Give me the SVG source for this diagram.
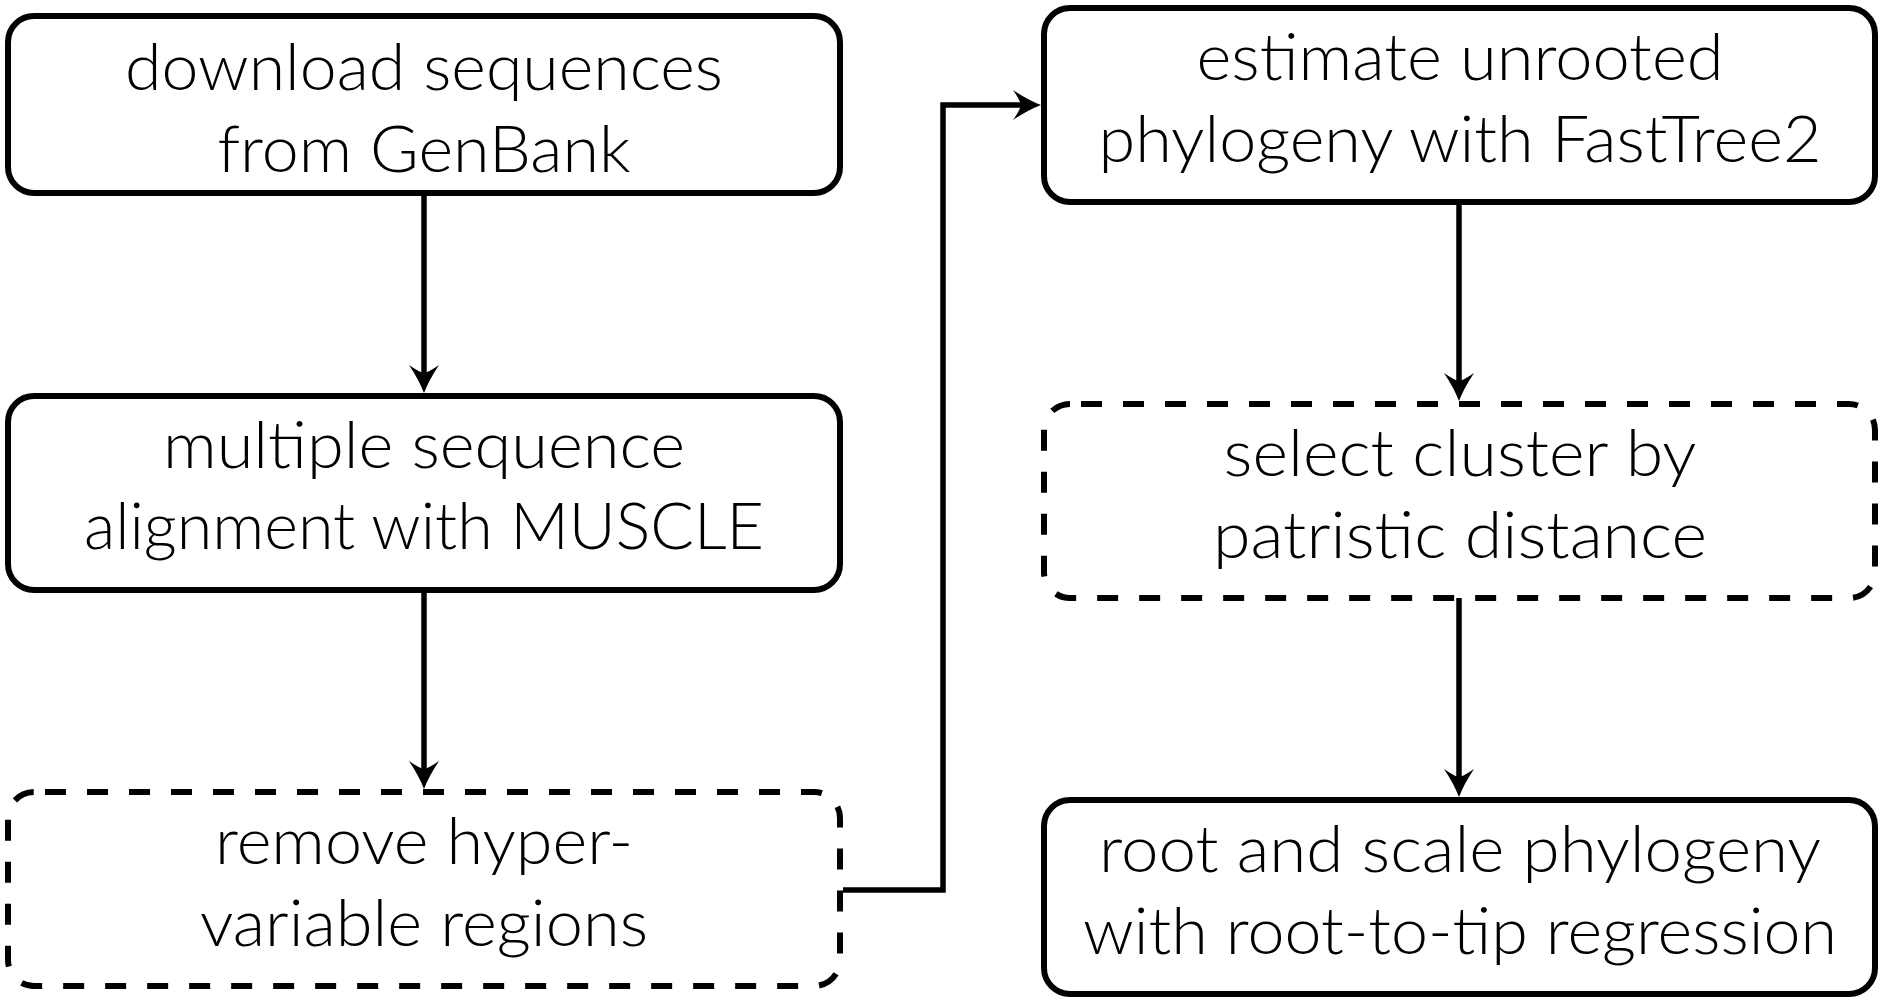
<svg xmlns="http://www.w3.org/2000/svg" width="1882" height="1000" viewBox="0 0 1882 1000">
<style>
.box{fill:#ffffff;stroke:#000000;stroke-width:6}
.dash{stroke-dasharray:21 21;stroke-dashoffset:31}
.lbl{font-family:Lato,"Liberation Sans",sans-serif;font-weight:300;font-size:65px;fill:#000000;text-anchor:middle}
.edge{fill:none;stroke:#000000;stroke-width:5.5}
</style>
<defs>
<marker id="arr" markerUnits="userSpaceOnUse" markerWidth="32" markerHeight="36" viewBox="-30 -18 32 36" refX="-20" refY="0" orient="auto">
<path d="M0,0 Q-13,-5 -28,-15 Q-21,-5 -20,0 Q-21,5 -28,15 Q-13,5 0,0 Z" fill="#000000"/>
</marker>
</defs>
<rect width="1882" height="1000" fill="#ffffff"/>
<g id="connectors">
<line class="edge" x1="424" y1="193" x2="424" y2="373" marker-end="url(#arr)"/>
<line class="edge" x1="424" y1="590" x2="424" y2="769" marker-end="url(#arr)"/>
<path class="edge" d="M843,890 H943 V105 H1021" marker-end="url(#arr)"/>
<line class="edge" x1="1459" y1="202" x2="1459" y2="381" marker-end="url(#arr)"/>
<line class="edge" x1="1459" y1="598" x2="1459" y2="777" marker-end="url(#arr)"/>
</g>
<g id="n1">
<rect class="box" x="8" y="16" width="832" height="177" rx="26"/>
<text class="lbl" x="424" y="90" textLength="598" lengthAdjust="spacingAndGlyphs">download sequences</text>
<text class="lbl" x="424" y="172" textLength="413" lengthAdjust="spacingAndGlyphs">from GenBank</text>
</g>
<g id="n2">
<rect class="box" x="8" y="396" width="832" height="194" rx="26"/>
<text class="lbl" x="424" y="468" textLength="522" lengthAdjust="spacingAndGlyphs">multiple sequence</text>
<text class="lbl" x="424" y="549" textLength="680" lengthAdjust="spacingAndGlyphs">alignment with MUSCLE</text>
</g>
<g id="n3">
<rect class="box dash" x="8" y="792" width="832" height="194" rx="26"/>
<text class="lbl" x="424" y="864" textLength="418" lengthAdjust="spacingAndGlyphs">remove hyper-</text>
<text class="lbl" x="424" y="946" textLength="448" lengthAdjust="spacingAndGlyphs">variable regions</text>
</g>
<g id="n4">
<rect class="box" x="1044" y="8" width="831" height="194" rx="26"/>
<text class="lbl" x="1460" y="80" textLength="527" lengthAdjust="spacingAndGlyphs">estimate unrooted</text>
<text class="lbl" x="1460" y="162" textLength="723" lengthAdjust="spacingAndGlyphs">phylogeny with FastTree2</text>
</g>
<g id="n5">
<rect class="box dash" x="1044" y="404" width="831" height="194" rx="26"/>
<text class="lbl" x="1460" y="476" textLength="473" lengthAdjust="spacingAndGlyphs">select cluster by</text>
<text class="lbl" x="1460" y="558" textLength="494" lengthAdjust="spacingAndGlyphs">patristic distance</text>
</g>
<g id="n6">
<rect class="box" x="1044" y="800" width="831" height="194" rx="26"/>
<text class="lbl" x="1460" y="872" textLength="722" lengthAdjust="spacingAndGlyphs">root and scale phylogeny</text>
<text class="lbl" x="1460" y="954" textLength="754" lengthAdjust="spacingAndGlyphs">with root-to-tip regression</text>
</g>
</svg>
